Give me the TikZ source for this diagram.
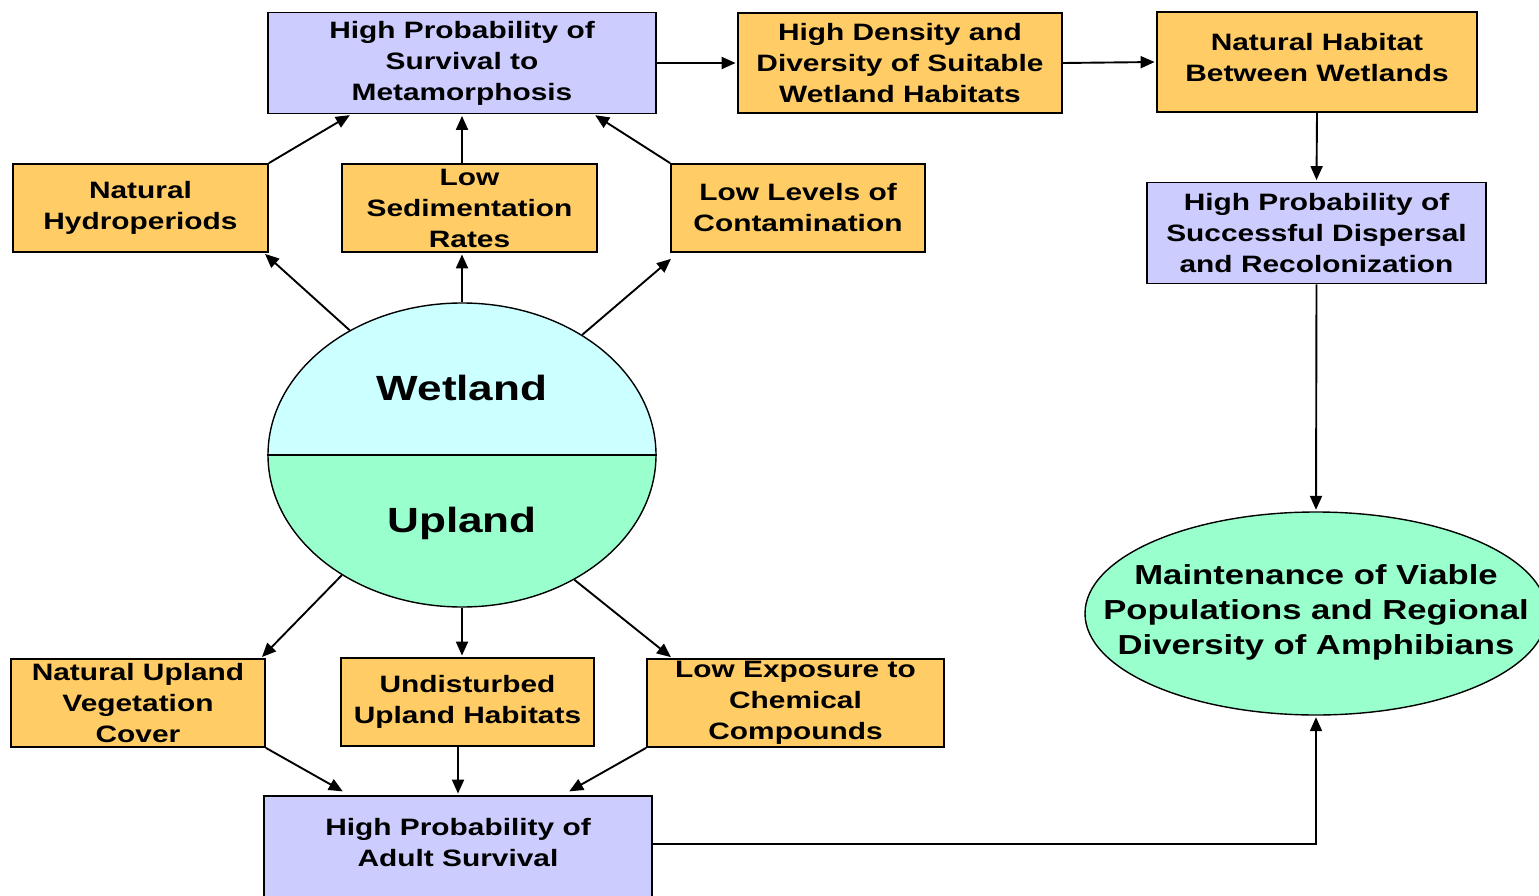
\documentclass[tikz,border=0pt]{standalone}
\usepackage{fontspec}
\setmainfont{Liberation Sans}[FakeStretch=1.26]
\usetikzlibrary{arrows.meta,calc,shapes.geometric}
\definecolor{boxor}{HTML}{FFCC66}
\definecolor{boxlav}{HTML}{CCCCFF}
\definecolor{wetc}{HTML}{CCFFFF}
\definecolor{upc}{HTML}{99FFCC}
\newcommand\boxfnt{\fontsize{23.7}{31}\selectfont\bfseries}
\newcommand\bigfnt{\fontsize{27.5}{35}\selectfont\bfseries}
\newcommand\hugefnt{\fontsize{35}{40}\selectfont\bfseries}
\tikzset{
  obox/.style={draw=black, line width=1.8pt, fill=boxor, align=center, font=\boxfnt, inner sep=0pt},
  lbox/.style={obox, fill=boxlav},
  conn/.style={-{Triangle[length=14pt,width=12pt]}, line width=1.9pt, shorten >=1.5pt},
}
\begin{document}
\begin{tikzpicture}[x=1pt,y=-1pt]
\useasboundingbox (0,0) rectangle (1539,896);
% top row
\node[lbox, minimum width=388pt, minimum height=101pt] (A) at (462,63) {High Probability of\\Survival to\\Metamorphosis};
\node[obox, minimum width=324pt, minimum height=100pt] (B) at (900,63) {High Density and\\Diversity of Suitable\\Wetland Habitats};
\node[obox, minimum width=320pt, minimum height=100pt,
      label={[font=\boxfnt, align=center, yshift=4pt]center:Natural Habitat\\Between Wetlands}] (C) at (1317,62) {};
\node[lbox, minimum width=339pt, minimum height=101pt] (D) at (1316.5,233) {High Probability of\\Successful Dispersal\\and Recolonization};
% middle row
\node[obox, minimum width=255pt, minimum height=88pt] (E) at (140.5,208) {Natural\\Hydroperiods};
\node[obox, minimum width=255pt, minimum height=88pt] (F) at (469.5,208) {Low\\Sedimentation\\Rates};
\node[obox, minimum width=254pt, minimum height=88pt] (G) at (798,208) {Low Levels of\\Contamination};
% ellipse
\begin{scope}
  \clip (462,455) ellipse [x radius=194, y radius=152];
  \fill[wetc] (260,295) rectangle (664,455);
  \fill[upc] (260,455) rectangle (664,615);
\end{scope}
\node[draw=black, line width=1.4pt, ellipse, minimum width=388pt, minimum height=304pt, inner sep=0pt] (W) at (462,455) {};
\draw[line width=1.4pt] (W.west) -- (W.east);
\node[font=\hugefnt] (Wt) at (462,388) {Wetland};
\node[font=\hugefnt] (Ut) at (462,523) {Upland};
% bottom row
\node[obox, minimum width=254pt, minimum height=88pt] (H) at (138,703) {Natural Upland\\Vegetation\\Cover};
\node[obox, minimum width=253pt, minimum height=88pt] (I) at (467.5,702) {Undisturbed\\Upland Habitats};
\node[obox, minimum width=297pt, minimum height=88pt] (J) at (795.5,703) {Low Exposure to\\Chemical\\Compounds};
\node[lbox, minimum width=388pt, minimum height=108pt,
      label={[font=\boxfnt, align=center, yshift=7.5pt]center:High Probability of\\Adult Survival}] (K) at (458,850) {};
% right ellipse
\node[draw=black, line width=1.4pt, fill=upc, ellipse, minimum width=462pt, minimum height=203pt, inner sep=0pt,
      label={[font=\bigfnt, align=center, yshift=1pt]center:Maintenance of Viable\\Populations and Regional\\Diversity of Amphibians}] (M) at (1316,613.5) {};
% connectors
\draw[conn] (A.east) -- (B.west);
\draw[conn] (B.east) -- (C.west);
\draw[conn] (C.south) -- (D.north);
\draw[conn] (D.south) -- (M.north);
\draw[conn] ($(K.north east)+(0,49)$) -| (M.south);
\draw[conn] (E.north east) -- ($(A.south west)+(84,0)$);
\draw[conn] (W.north |- F.north) -- (W.north |- A.south);
\draw[conn] (G.north west) -- ($(A.south east)+(-63,0)$);
\draw[conn] (W.132) -- ($(E.south east)+(-5,0)$);
\draw[conn] (W.north) -- (W.north |- F.south);
\draw[conn] (W.45) -- ($(G.south west)+(2,5)$);
\draw[conn] (W.225) -- ($(H.north east)+(-5,0)$);
\draw[conn] (W.south) -- (W.south |- I.north);
\draw[conn] (W.312) -- ($(J.north west)+(26,0)$);
\draw[conn] (H.south east) -- ($(K.north west)+(81,-3)$);
\draw[conn] (I.south -| K.north) -- (K.north);
\draw[conn] (J.south west) -- ($(K.north east)+(-85,-3)$);
\end{tikzpicture}
\end{document}
